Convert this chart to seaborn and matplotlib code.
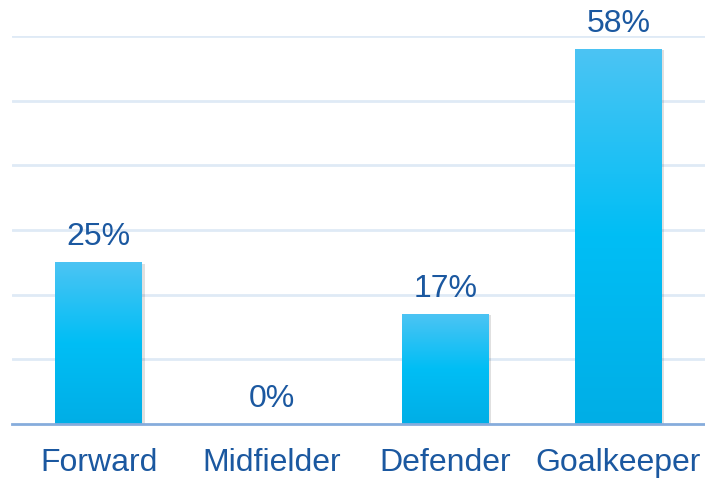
import numpy as np
import pandas as pd
import matplotlib
matplotlib.use("Agg")
import matplotlib.pyplot as plt
import matplotlib.patheffects as pe
from matplotlib.colors import LinearSegmentedColormap
import seaborn as sns

positions = ["Forward", "Midfielder", "Defender", "Goalkeeper"]
shares = [25, 0, 17, 58]
share_labels = ["25%", "0%", "17%", "58%"]

TEXT = "#1b58a0"
GRID = "#dfeaf6"
BASE = "#86acdc"

sns.set_theme(style="white")
plt.rcParams["font.family"] = ["Liberation Sans", "DejaVu Sans"]

df = pd.DataFrame({"position": positions, "share": shares})

fig = plt.figure(figsize=(7.05, 4.82), dpi=100)
ax = fig.add_axes([12 / 705, 58 / 482, 693 / 705, (424 - 36) / 482])

sns.barplot(data=df, x="position", y="share", color="#00bef5", width=0.5,
            saturation=1, ax=ax, zorder=3)

ax.set_ylim(0, 60)
ax.set_xlim(-0.5, 3.5)
ax.set_yticks(np.arange(10, 61, 10))
ax.yaxis.grid(True, color=GRID, linewidth=2)
ax.set_axisbelow(True)
for s in ["top", "right", "left"]:
    ax.spines[s].set_visible(False)
ax.spines["bottom"].set_color(BASE)
ax.spines["bottom"].set_linewidth(2)
ax.spines["bottom"].set_zorder(5)
ax.tick_params(axis="y", left=False, labelleft=False)
ax.tick_params(axis="x", bottom=False, labelsize=23, labelcolor=TEXT, pad=11)
ax.set_xlabel("")
ax.set_ylabel("")

# gradient fill: lighter at the top, deeper blue at the base
grad = LinearSegmentedColormap.from_list("bar", ["#4cc4f3", "#00bef5", "#00aee6"])
for patch in ax.patches:
    h = patch.get_height()
    if h <= 0:
        patch.set_visible(False)
        continue
    x0 = patch.get_x()
    w = patch.get_width()
    patch.set_facecolor("none")
    patch.set_edgecolor("none")
    patch.set_path_effects([pe.SimplePatchShadow(offset=(2, -1), shadow_rgbFace="#000000", alpha=0.12)])
    img = ax.imshow(np.linspace(0, 1, 256).reshape(-1, 1), cmap=grad, aspect="auto",
                    extent=[x0, x0 + w, 0, h], origin="upper", zorder=3)
    rect = plt.Rectangle((x0, 0), w, h, transform=ax.transData)
    img.set_clip_path(rect)

ax.set_xlim(-0.5, 3.5)
ax.set_ylim(0, 60)

for i, (v, lab) in enumerate(zip(shares, share_labels)):
    ax.text(i, v + 1.6, lab, ha="center", va="bottom", fontsize=23,
            color=TEXT, clip_on=False, zorder=6)

fig.savefig("out.png", dpi=100)
